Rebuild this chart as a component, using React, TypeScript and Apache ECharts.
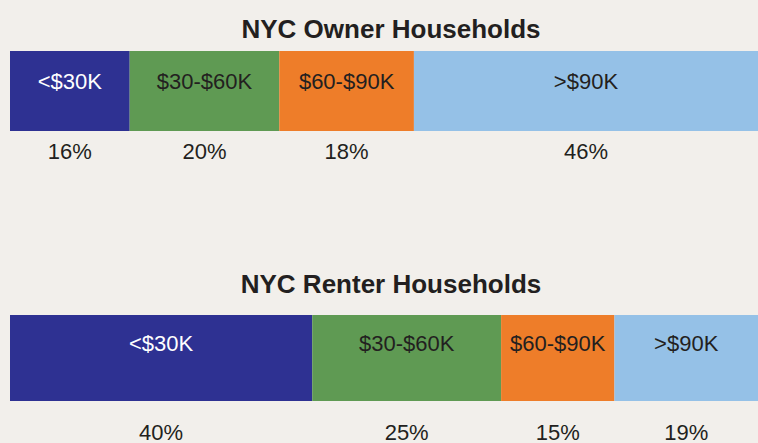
import React, { useEffect, useRef } from "react";
import * as echarts from "echarts";

const incomeBands = ["<$30K", "$30-$60K", "$60-$90K", ">$90K"];
const ownerPct = [16, 20, 18, 46];
const renterPct = [40, 25, 15, 19];
const bandColors = ["#2e3192", "#5f9a53", "#ee7d29", "#95c1e7"];
const bandTextColors = ["#ffffff", "#231f20", "#231f20", "#231f20"];
const titles = ["NYC Owner Households", "NYC Renter Households"];

const FONT = "'Liberation Sans', Arial, Helvetica, sans-serif";

function makeSeries(group: string, values: number[], axis: number, barWidth: number, dist: number, gap: number) {
  return values.map((v, i) => ({
    type: "bar",
    name: `${group}-${incomeBands[i]}`,
    stack: group,
    xAxisIndex: axis,
    yAxisIndex: axis,
    barWidth,
    data: [v],
    itemStyle: { color: bandColors[i] },
    label: {
      show: true,
      position: "insideTop",
      distance: dist,
      formatter: () => `{n|${incomeBands[i]}}\n{s|\u00a0}\n{p|${v}%}`,
      rich: {
        n: { fontFamily: FONT, fontSize: 22, lineHeight: 24, color: bandTextColors[i], align: "center" },
        s: { fontSize: 10, lineHeight: gap },
        p: { fontFamily: FONT, fontSize: 22, lineHeight: 22, color: "#231f20", align: "center" },
      },
    },
  }));
}

export default function App() {
  const ref = useRef<HTMLDivElement>(null);
  useEffect(() => {
    if (!ref.current) return;
    const chart = echarts.init(ref.current, undefined, { renderer: "svg" });
    const ownerSum = ownerPct.reduce((a, b) => a + b, 0);
    const renterSum = renterPct.reduce((a, b) => a + b, 0);
    chart.setOption({
      animation: false,
      backgroundColor: "#f2efeb",
      title: [
        { text: titles[0], left: 386, top: 11, textAlign: "center", textStyle: { fontFamily: FONT, fontSize: 26, fontWeight: "bold", color: "#231f20" } },
        { text: titles[1], left: 386, top: 266, textAlign: "center", textStyle: { fontFamily: FONT, fontSize: 26, fontWeight: "bold", color: "#231f20" } },
      ],
      grid: [
        { left: 10, right: 0, top: 51, height: 80 },
        { left: 10, right: 0, top: 315, height: 86 },
      ],
      xAxis: [
        { type: "value", gridIndex: 0, min: 0, max: ownerSum, show: false },
        { type: "value", gridIndex: 1, min: 0, max: renterSum, show: false },
      ],
      yAxis: [
        { type: "category", gridIndex: 0, data: ["Owner"], show: false },
        { type: "category", gridIndex: 1, data: ["Renter"], show: false },
      ],
      series: [
        ...makeSeries("owner", ownerPct, 0, 80, 18, 47),
        ...makeSeries("renter", renterPct, 1, 86, 16, 66),
      ],
    });
    return () => chart.dispose();
  }, []);
  return <div ref={ref} style={{ position: "fixed", left: 0, top: 0, width: 758, height: 443 }} />;
}
